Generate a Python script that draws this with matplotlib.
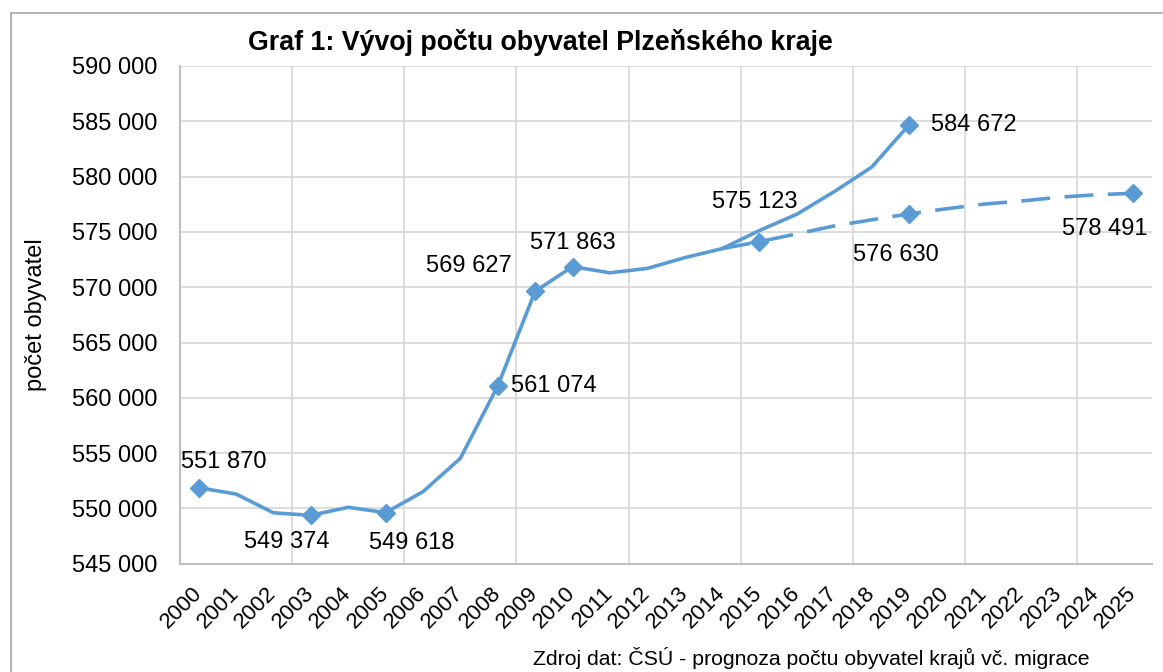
import matplotlib.pyplot as mp
from matplotlib.lines import Line2D
import numpy as np

years = list(range(2000, 2026))

realYears = list(range(2000, 2020))
realPop = [551870, 551300, 549600, 549374, 550100, 549618, 551510, 554530, 561074, 569627,
           571863, 571300, 571700, 572670, 573485, 575123, 576600, 578640, 580850, 584672]

progYears = list(range(2014, 2026))
progPop = [573485, 574120, 574820, 575540, 576090, 576630, 577090, 577510, 577790, 578130,
           578360, 578491]

realMarked = [2000, 2003, 2005, 2008, 2009, 2010, 2019]
progMarked = [2015, 2019, 2025]

# which points get a value label: (series, year) -> offset in pixels, alignment
labelPos = {
    ('real', 2000): ((25, 26), 'center'),
    ('real', 2003): ((-24, -27), 'center'),
    ('real', 2005): ((26, -30), 'center'),
    ('real', 2008): ((13, 0), 'left'),
    ('real', 2009): ((-23, 25), 'right'),
    ('real', 2010): ((0, 24), 'center'),
    ('real', 2015): ((-5, 29), 'center'),
    ('real', 2019): ((22, 0), 'left'),
    ('prog', 2019): ((-13, -41), 'center'),
    ('prog', 2025): ((-29, -36), 'center'),
}

def fmt(v):
    return '{:,}'.format(int(v)).replace(',', ' ')

mp.rc('font', family=['Liberation Sans', 'DejaVu Sans'])
BLUE = '#5B9BD5'

graph = mp.figure(figsize=(11.63, 6.72), dpi=100)
ax = graph.add_axes([180 / 1163, 1 - 563.7 / 672, (1152 - 180) / 1163, (563.7 - 66) / 672])

ax.plot(realYears, realPop, c=BLUE, lw=2.6, marker='D', ms=9,
        markevery=[realYears.index(y) for y in realMarked], zorder=3)
ax.plot(progYears, progPop, c=BLUE, lw=2.6, ls=(0, (8, 4)), marker='D', ms=9,
        markevery=[progYears.index(y) for y in progMarked], zorder=3)

series = {'real': (realYears, realPop), 'prog': (progYears, progPop)}
for (name, yr), (off, ha) in labelPos.items():
    xs, ys = series[name]
    v = ys[xs.index(yr)]
    ax.annotate(fmt(v), (yr, v), xytext=off, textcoords='offset pixels',
                ha=ha, va='center', fontsize=17, color='black')

ax.set_xlim(1999.5, 2025.5)
ax.set_ylim(545000, 590000)
ax.set_yticks(np.arange(545000, 590001, 5000))
ax.set_yticklabels([fmt(v) for v in np.arange(545000, 590001, 5000)], fontsize=17)
ax.set_xticks(years)
ax.set_xticklabels([str(y) for y in years], fontsize=16, rotation=45, ha='right',
                   va='center', rotation_mode='anchor')
ax.tick_params(axis='x', length=0, pad=19)
ax.tick_params(axis='y', length=0, pad=16)

# gridlines: horizontal at every y tick, vertical every third category boundary
ax.grid(axis='y', color='#D9D9D9', lw=1.3)
for gx in np.arange(1999.5, 2025.5, 3):
    ax.axvline(gx, color='#D9D9D9', lw=1.3, zorder=0)
ax.set_axisbelow(True)

for s in ['top', 'right']:
    ax.spines[s].set_visible(False)
for s in ['left', 'bottom']:
    ax.spines[s].set_color('#BFBFBF')
    ax.spines[s].set_linewidth(1.5)

ax.set_ylabel('počet obyvatel', fontsize=17)
ax.yaxis.set_label_coords(-0.137, 0.5)

graph.text(540 / 1163, 1 - 42 / 672, 'Graf 1: Vývoj počtu obyvatel Plzeňského kraje',
           ha='center', va='center', fontsize=19.3, fontweight='bold')
graph.text(1090 / 1163, 1 - 658 / 672, 'Zdroj dat: ČSÚ - prognoza počtu obyvatel krajů vč. migrace',
           ha='right', va='center', fontsize=15.3)

# outer frame of the chart, only left and top edges fall inside the picture
bx, by = 10.5 / 1163, 1 - 12.5 / 672
graph.lines.append(Line2D([bx, bx], [0, by], transform=graph.transFigure, c='#A6A6A6', lw=1.2))
graph.lines.append(Line2D([bx, 1], [by, by], transform=graph.transFigure, c='#A6A6A6', lw=1.2))

mp.savefig('out.png', dpi=100)
mp.close()
